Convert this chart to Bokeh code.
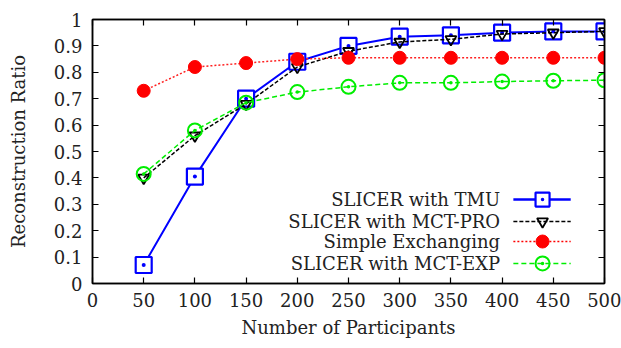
from bokeh.plotting import figure
from bokeh.models import LinearAxis, Range1d, FixedTicker
from bokeh.core.properties import value
from bokeh.embed import file_html
from bokeh.resources import INLINE

participants = [50, 100, 150, 200, 250, 300, 350, 400, 450, 500]
tmu = [0.07, 0.405, 0.70, 0.84, 0.90, 0.935, 0.94, 0.95, 0.955, 0.955]
mct_pro = [0.40, 0.56, 0.68, 0.82, 0.88, 0.915, 0.925, 0.945, 0.95, 0.955]
simple = [0.73, 0.82, 0.835, 0.85, 0.855, 0.855, 0.855, 0.855, 0.855, 0.855]
mct_exp = [0.415, 0.58, 0.685, 0.725, 0.745, 0.76, 0.76, 0.765, 0.768, 0.77]
names = ["SLICER with TMU", "SLICER with MCT-PRO", "Simple Exchanging", "SLICER with MCT-EXP"]
x_ticks = [0, 50, 100, 150, 200, 250, 300, 350, 400, 450, 500]
y_ticks = [0, 0.1, 0.2, 0.3, 0.4, 0.5, 0.6, 0.7, 0.8, 0.9, 1]

FONT = "DejaVu Serif"
FS = "18px"
TXT = "#222222"

p = figure(width=621, height=348, output_backend="svg", toolbar_location=None,
           x_range=Range1d(0, 500), y_range=Range1d(0, 1),
           min_border_left=92, min_border_right=17, min_border_top=19, min_border_bottom=65,
           background_fill_color="white", border_fill_color="white")
p.xgrid.visible = False
p.ygrid.visible = False
p.outline_line_color = "black"
p.outline_line_width = 1.5

for ax, ticks in ((p.xaxis[0], x_ticks), (p.yaxis[0], y_ticks)):
    ax.ticker = FixedTicker(ticks=ticks)
    ax.major_tick_in = 6
    ax.major_tick_out = 0
    ax.minor_tick_line_color = None
    ax.axis_line_color = "black"
    ax.axis_line_width = 1.5
    ax.major_tick_line_width = 1.2
    ax.major_label_text_font = FONT
    ax.major_label_text_font_size = FS
    ax.major_label_text_color = TXT
    ax.axis_label_text_font = FONT
    ax.axis_label_text_font_size = FS
    ax.axis_label_text_font_style = "normal"
    ax.axis_label_text_color = TXT

p.xaxis[0].axis_label = "Number of Participants"
p.yaxis[0].axis_label = "Reconstruction Ratio"
p.xaxis[0].major_label_standoff = 9
p.xaxis[0].axis_label_standoff = 7
p.yaxis[0].major_label_standoff = 10
p.yaxis[0].axis_label_standoff = 22

for loc, ticks in (("right", y_ticks), ("above", x_ticks)):
    a = LinearAxis(ticker=FixedTicker(ticks=ticks), major_tick_in=6, major_tick_out=0,
                   minor_tick_line_color=None, major_label_standoff=0,
                   major_label_overrides={t: "" for t in ticks},
                   axis_line_width=1.5, major_tick_line_width=1.2)
    p.add_layout(a, loc)

# series
p.line(participants, tmu, line_color="#0000ff", line_width=2)
p.scatter(participants, tmu, marker="square_dot", size=16, line_color="#0000ff",
          fill_color="white", line_width=2.2)

p.line(participants, mct_pro, line_color="black", line_width=1.5, line_dash="4 2")
p.scatter(participants, mct_pro, marker="inverted_triangle", size=11, line_color="black",
          fill_color=None, line_width=1.8)

p.line(participants, simple, line_color="#ff2020", line_width=1.5, line_dash="2 2")
p.scatter(participants, simple, marker="circle", size=13, line_color="#ff0000",
          fill_color="#ff0000")

p.line(participants, mct_exp, line_color="#00ee00", line_width=1.5, line_dash="5 3")
p.scatter(participants, mct_exp, marker="circle_dot", size=14, line_color="#00ee00",
          fill_color=None, line_width=2)

# legend (inside, bottom right; label left of sample)
leg_y = [0.318, 0.235, 0.159, 0.076]
p.text(x=[398] * 4, y=leg_y, text=names, text_align="right", text_baseline="middle",
       text_font=value(FONT), text_font_size=FS, text_color=TXT)
styles = [
    dict(color="#0000ff", w=2.5, dash="solid", marker="square_dot", size=14, fill="white", lw=2.2),
    dict(color="black", w=1.5, dash="4 2", marker="inverted_triangle", size=11, fill=None, lw=1.8),
    dict(color="#ff0000", w=1.5, dash="2 2", marker="circle", size=13, fill="#ff0000", lw=1),
    dict(color="#00ee00", w=1.5, dash="5 3", marker="circle_dot", size=14, fill=None, lw=2),
]
for yy, s in zip(leg_y, styles):
    p.line([411, 467], [yy, yy], line_color=s["color"], line_width=s["w"], line_dash=s["dash"])
    p.scatter([439.5], [yy], marker=s["marker"], size=s["size"], line_color=s["color"],
              fill_color=s["fill"], line_width=s["lw"])

open("out.html", "w").write(file_html(p, INLINE))
